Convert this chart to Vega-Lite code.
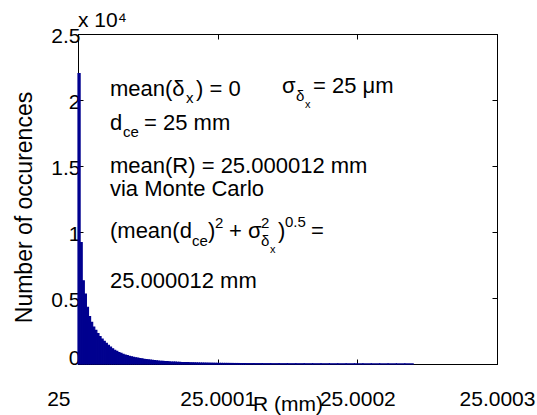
{
  "$schema": "https://vega.github.io/schema/vega-lite/v6.json",
  "width": 419,
  "height": 330,
  "autosize": "none",
  "padding": {"left": 78, "top": 34, "right": 40, "bottom": 51},
  "background": "white",
  "title": {"text": "x 10⁴", "anchor": "start", "frame": "group", "fontSize": 21, "font": "Liberation Sans", "fontWeight": "normal", "color": "black", "offset": -6},
  "config": {
    "view": {"stroke": "black", "strokeWidth": 1},
    "axis": {"labelFont": "Liberation Sans", "titleFont": "Liberation Sans", "labelFontSize": 21, "titleFontSize": 21, "titleFontWeight": "normal", "labelColor": "black", "titleColor": "black", "domain": true, "domainColor": "black", "domainWidth": 1, "ticks": true, "tickColor": "black", "tickWidth": 1, "grid": false, "tickSize": -5},
    "text": {"font": "Liberation Sans", "color": "black"}
  },
  "datasets": {
    "bins": [
      {"r0": 25, "r1": 25.0000015, "n": 22000},
      {"r0": 25.0000015, "r1": 25.000003, "n": 9200},
      {"r0": 25.000003, "r1": 25.0000045, "n": 6300},
      {"r0": 25.0000045, "r1": 25.000006, "n": 5300},
      {"r0": 25.000006, "r1": 25.0000075, "n": 4300},
      {"r0": 25.0000075, "r1": 25.000009, "n": 3600},
      {"r0": 25.000009, "r1": 25.0000105, "n": 3150},
      {"r0": 25.0000105, "r1": 25.000012, "n": 2800},
      {"r0": 25.000012, "r1": 25.0000135, "n": 2550},
      {"r0": 25.0000135, "r1": 25.000015, "n": 2300},
      {"r0": 25.000015, "r1": 25.0000165, "n": 2080},
      {"r0": 25.0000165, "r1": 25.000018, "n": 1880},
      {"r0": 25.000018, "r1": 25.0000195, "n": 1720},
      {"r0": 25.0000195, "r1": 25.000021, "n": 1560},
      {"r0": 25.000021, "r1": 25.0000225, "n": 1420},
      {"r0": 25.0000225, "r1": 25.000024, "n": 1280},
      {"r0": 25.000024, "r1": 25.0000255, "n": 1150},
      {"r0": 25.0000255, "r1": 25.000027, "n": 1040},
      {"r0": 25.000027, "r1": 25.0000285, "n": 950},
      {"r0": 25.0000285, "r1": 25.00003, "n": 870},
      {"r0": 25.00003, "r1": 25.0000315, "n": 800},
      {"r0": 25.0000315, "r1": 25.000033, "n": 740},
      {"r0": 25.000033, "r1": 25.0000345, "n": 680},
      {"r0": 25.0000345, "r1": 25.000036, "n": 630},
      {"r0": 25.000036, "r1": 25.0000375, "n": 585},
      {"r0": 25.0000375, "r1": 25.000039, "n": 545},
      {"r0": 25.000039, "r1": 25.0000405, "n": 505},
      {"r0": 25.0000405, "r1": 25.000042, "n": 470},
      {"r0": 25.000042, "r1": 25.0000435, "n": 440},
      {"r0": 25.0000435, "r1": 25.000045, "n": 410},
      {"r0": 25.000045, "r1": 25.0000465, "n": 382},
      {"r0": 25.0000465, "r1": 25.000048, "n": 356},
      {"r0": 25.000048, "r1": 25.0000495, "n": 332},
      {"r0": 25.0000495, "r1": 25.000051, "n": 310},
      {"r0": 25.000051, "r1": 25.0000525, "n": 290},
      {"r0": 25.0000525, "r1": 25.000054, "n": 271},
      {"r0": 25.000054, "r1": 25.0000555, "n": 254},
      {"r0": 25.0000555, "r1": 25.000057, "n": 238},
      {"r0": 25.000057, "r1": 25.0000585, "n": 223},
      {"r0": 25.0000585, "r1": 25.00006, "n": 209},
      {"r0": 25.00006, "r1": 25.0000615, "n": 196},
      {"r0": 25.0000615, "r1": 25.000063, "n": 184},
      {"r0": 25.000063, "r1": 25.0000645, "n": 173},
      {"r0": 25.0000645, "r1": 25.000066, "n": 163},
      {"r0": 25.000066, "r1": 25.0000675, "n": 153},
      {"r0": 25.0000675, "r1": 25.000069, "n": 144},
      {"r0": 25.000069, "r1": 25.0000705, "n": 136},
      {"r0": 25.0000705, "r1": 25.000072, "n": 128},
      {"r0": 25.000072, "r1": 25.0000735, "n": 121},
      {"r0": 25.0000735, "r1": 25.000075, "n": 114},
      {"r0": 25.000075, "r1": 25.0000765, "n": 108},
      {"r0": 25.0000765, "r1": 25.000078, "n": 102},
      {"r0": 25.000078, "r1": 25.0000795, "n": 97},
      {"r0": 25.0000795, "r1": 25.000081, "n": 92},
      {"r0": 25.000081, "r1": 25.0000825, "n": 87},
      {"r0": 25.0000825, "r1": 25.000084, "n": 83},
      {"r0": 25.000084, "r1": 25.0000855, "n": 79},
      {"r0": 25.0000855, "r1": 25.000087, "n": 75},
      {"r0": 25.000087, "r1": 25.0000885, "n": 71},
      {"r0": 25.0000885, "r1": 25.00009, "n": 68},
      {"r0": 25.00009, "r1": 25.0000915, "n": 65},
      {"r0": 25.0000915, "r1": 25.000093, "n": 62},
      {"r0": 25.000093, "r1": 25.0000945, "n": 59},
      {"r0": 25.0000945, "r1": 25.000096, "n": 56},
      {"r0": 25.000096, "r1": 25.0000975, "n": 54},
      {"r0": 25.0000975, "r1": 25.000099, "n": 51},
      {"r0": 25.000099, "r1": 25.0001005, "n": 49},
      {"r0": 25.0001005, "r1": 25.000102, "n": 47},
      {"r0": 25.000102, "r1": 25.0001035, "n": 45},
      {"r0": 25.0001035, "r1": 25.000105, "n": 43},
      {"r0": 25.000105, "r1": 25.0001065, "n": 41},
      {"r0": 25.0001065, "r1": 25.000108, "n": 40},
      {"r0": 25.000108, "r1": 25.0001095, "n": 38},
      {"r0": 25.0001095, "r1": 25.000111, "n": 37},
      {"r0": 25.000111, "r1": 25.0001125, "n": 35},
      {"r0": 25.0001125, "r1": 25.000114, "n": 34},
      {"r0": 25.000114, "r1": 25.0001155, "n": 33},
      {"r0": 25.0001155, "r1": 25.000117, "n": 31},
      {"r0": 25.000117, "r1": 25.0001185, "n": 30},
      {"r0": 25.0001185, "r1": 25.00012, "n": 29},
      {"r0": 25.00012, "r1": 25.000126, "n": 27},
      {"r0": 25.000126, "r1": 25.000132, "n": 25},
      {"r0": 25.000132, "r1": 25.000138, "n": 23},
      {"r0": 25.000138, "r1": 25.000144, "n": 21},
      {"r0": 25.000144, "r1": 25.00015, "n": 20},
      {"r0": 25.00015, "r1": 25.000156, "n": 18},
      {"r0": 25.000156, "r1": 25.000162, "n": 17},
      {"r0": 25.000162, "r1": 25.000168, "n": 16},
      {"r0": 25.000168, "r1": 25.000174, "n": 15},
      {"r0": 25.000174, "r1": 25.00018, "n": 14},
      {"r0": 25.00018, "r1": 25.000186, "n": 13},
      {"r0": 25.000186, "r1": 25.000192, "n": 12},
      {"r0": 25.000192, "r1": 25.000198, "n": 12},
      {"r0": 25.000198, "r1": 25.000204, "n": 11},
      {"r0": 25.000204, "r1": 25.00021, "n": 10},
      {"r0": 25.00021, "r1": 25.000216, "n": 10},
      {"r0": 25.000216, "r1": 25.000222, "n": 9},
      {"r0": 25.000222, "r1": 25.000228, "n": 9},
      {"r0": 25.000228, "r1": 25.000234, "n": 8},
      {"r0": 25.000234, "r1": 25.00024, "n": 8}
    ],
    "main": [
      {"x": 25.0000229, "y": 20303, "t": "mean(δ"},
      {"x": 25.0000845, "y": 20303, "t": ") = 0"},
      {"x": 25.0001461, "y": 20530, "t": "σ"},
      {"x": 25.0001683, "y": 20530, "t": "= 25 μm"},
      {"x": 25.0000229, "y": 17727, "t": "d"},
      {"x": 25.0000473, "y": 17727, "t": "= 25 mm"},
      {"x": 25.0000229, "y": 14470, "t": "mean(R) = 25.000012 mm"},
      {"x": 25.0000229, "y": 12727, "t": "via Monte Carlo"},
      {"x": 25.0000229, "y": 9545, "t": "(mean(d"},
      {"x": 25.0000931, "y": 9545, "t": ")"},
      {"x": 25.0001081, "y": 9545, "t": "+ σ"},
      {"x": 25.0001432, "y": 9545, "t": ")"},
      {"x": 25.0001668, "y": 9545, "t": "="},
      {"x": 25.0000229, "y": 5758, "t": "25.000012 mm"}
    ],
    "small": [
      {"x": 25.0000773, "y": 19773, "t": "x"},
      {"x": 25.0001561, "y": 19924, "t": "δ"},
      {"x": 25.0000322, "y": 17197, "t": "ce"},
      {"x": 25.0000816, "y": 8939, "t": "ce"},
      {"x": 25.0000981, "y": 10303, "t": "2"},
      {"x": 25.000131, "y": 10303, "t": "2"},
      {"x": 25.000131, "y": 8939, "t": "δ"},
      {"x": 25.0001482, "y": 10379, "t": "0.5"}
    ],
    "tiny": [
      {"x": 25.0001625, "y": 19394, "t": "x"},
      {"x": 25.0001375, "y": 8409, "t": "x"}
    ]
  },
  "layer": [
    {
      "data": {"name": "bins"},
      "mark": {"type": "bar", "color": "#00008F", "stroke": "#00008F", "strokeWidth": 1.2},
      "encoding": {
        "x": {"field": "r0", "type": "quantitative", "scale": {"domain": [25, 25.0003], "nice": false, "zero": false},
          "axis": {"orient": "bottom", "values": [25, 25.0001, 25.0002, 25.0003],
            "labelExpr": "datum.value < 25.00005 ? '25' : format(datum.value, '.4f')",
            "labelAlign": {"condition": {"test": "datum.value < 25.00005", "value": "right"}, "value": "center"},
            "labelOffset": {"condition": {"test": "datum.value < 25.00005", "value": -8}, "value": 0},
            "labelBaseline": "top", "labelPadding": 29, "labelFlush": false, "labelOverlap": false,
            "title": "R (mm)", "titleY": 46, "titleBaseline": "alphabetic"}},
        "x2": {"field": "r1"},
        "y": {"field": "n", "type": "quantitative", "scale": {"domain": [0, 25000], "nice": false},
          "axis": {"orient": "left", "values": [0, 5000, 10000, 15000, 20000, 25000],
            "labelExpr": "'' + datum.value / 10000",
            "labelOffset": {"condition": {"test": "datum.value == 0", "value": -6}, "value": 2},
            "labelPadding": 3, "labelOverlap": false,
            "title": "Number of occurences", "titleFontSize": 23, "titleX": -47, "titleY": 173, "titleAngle": 270, "titleBaseline": "alphabetic", "titleAlign": "center"}},
        "y2": {"datum": 0}
      }
    },
    {
      "data": {"name": "main"},
      "mark": {"type": "text", "align": "left", "baseline": "alphabetic", "fontSize": 22},
      "encoding": {
        "x": {"field": "x", "type": "quantitative", "axis": {"orient": "top", "values": [25, 25.0001, 25.0002, 25.0003], "labels": false, "title": null}},
        "y": {"field": "y", "type": "quantitative", "axis": {"orient": "right", "values": [0, 5000, 10000, 15000, 20000, 25000], "labels": false, "title": null}},
        "text": {"field": "t"}
      }
    },
    {
      "data": {"name": "small"},
      "mark": {"type": "text", "align": "left", "baseline": "alphabetic", "fontSize": 15},
      "encoding": {
        "x": {"field": "x", "type": "quantitative", "axis": null},
        "y": {"field": "y", "type": "quantitative", "axis": null},
        "text": {"field": "t"}
      }
    },
    {
      "data": {"name": "tiny"},
      "mark": {"type": "text", "align": "left", "baseline": "alphabetic", "fontSize": 11},
      "encoding": {
        "x": {"field": "x", "type": "quantitative", "axis": null},
        "y": {"field": "y", "type": "quantitative", "axis": null},
        "text": {"field": "t"}
      }
    }
  ],
  "resolve": {"axis": {"x": "independent", "y": "independent"}}
}
